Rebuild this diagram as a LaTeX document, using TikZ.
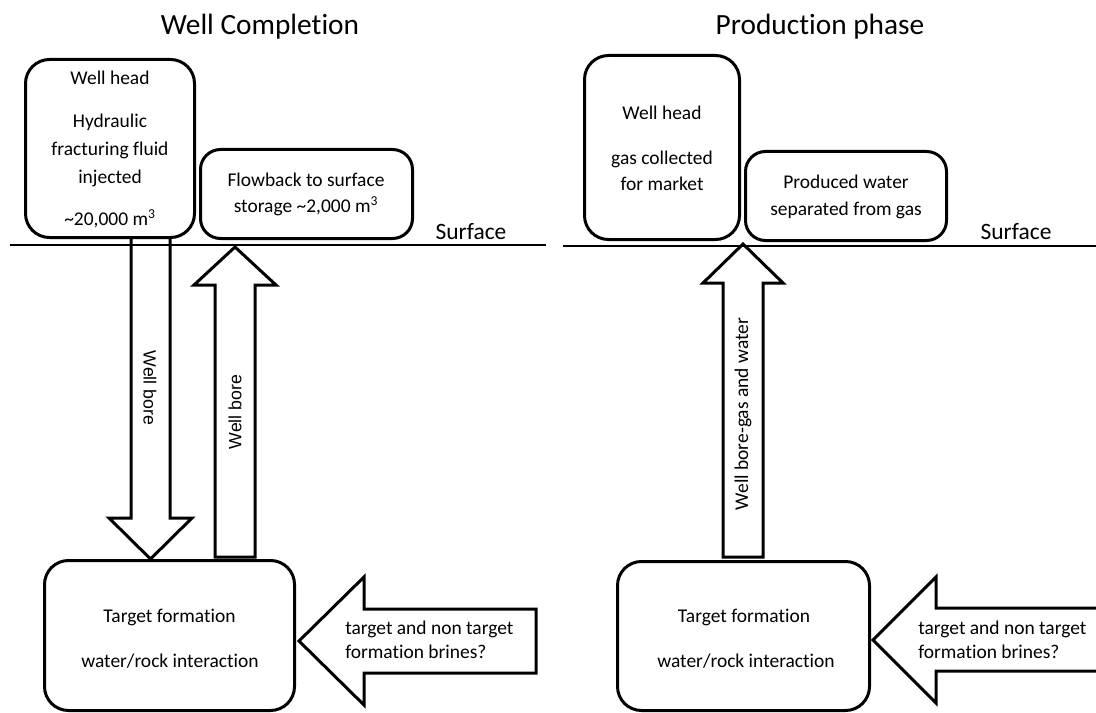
\documentclass[tikz,border=0pt]{standalone}
\usepackage{fontspec}
\setmainfont{Carlito}[RawFeature={-liga;-clig;-calt;-dlig;-rlig}]
\newfontfamily\arialfont{Liberation Sans}
\usepackage{tikz}

\begin{document}
\begin{tikzpicture}[x=0.75pt,y=0.75pt,yscale=-1,xscale=1,
	box/.style={draw, line width=2.25pt, rounded corners=18pt, inner sep=0pt},
	fat/.style={line width=2.25pt, line join=miter},
	lbl/.style={inner sep=0.75pt, align=center, font=\fontsize{14.6}{21}\selectfont},
	ttl/.style={inner sep=0.75pt, font=\fontsize{22}{26}\selectfont},
	srf/.style={inner sep=0.75pt, font=\fontsize{17.6}{21}\selectfont},
	bore/.style={inner sep=0.75pt, font=\arialfont\fontsize{13.3}{16}\selectfont}]
	\useasboundingbox (0,0) rectangle (1096,713);
	
	%Straight Lines: surface
	\draw [line width=2pt] (10,245) -- (546,245) ;
	\draw [line width=2pt] (563,246) -- (1096,246) ;
	
	%Shape: Box [well completion]
	\node [box, minimum width=126.75pt, minimum height=133.5pt] (cwell) at (110,148.5) {};
	\node [box, rounded corners=15pt, minimum width=159pt, minimum height=66.75pt] (cflow) at (306.5,194) {};
	\node [box, minimum width=187.5pt, minimum height=112.5pt] (ctarget) at (169.5,635.5) {};
	%Shape: Box [production phase]
	\node [box, minimum width=116.25pt, minimum height=138pt] (pwell) at (662,147.5) {};
	\node [box, rounded corners=15pt, minimum width=150.75pt, minimum height=66.75pt] (pwater) at (846,196) {};
	\node [box, minimum width=189pt, minimum height=111.75pt] (ptarget) at (743.5,636) {};
	
	%Shape: Arrow [down, injected]
	\draw [fat] (131,239) -- (131,518) -- (109,518) -- (150.5,559) -- (192,518) -- (170,518) -- (170,239) ;
	%Shape: Arrow [up, flowback]
	\draw [fat] (215,557) -- (215,285) -- (194,285) -- (235,247) -- (276,285) -- (255,285) -- (255,557) -- cycle ;
	%Shape: Arrow [up, gas and water]
	\draw [fat] (723,557) -- (723,283) -- (703,283) -- (743,244) -- (783,283) -- (763,283) -- (763,557) -- cycle ;
	%Shape: Arrow [left, brines]
	\draw [fat] (536,609) -- (364,609) -- (364,577) -- (299,641) -- (364,705) -- (364,673) -- (536,673) -- cycle ;
	\draw [fat] (1100,608) -- (936,608) -- (936,577) -- (873,640) -- (936,703) -- (936,671) -- (1100,671) ;
	
	% Text Node
	\node [ttl] (ctitle) at (260,27) {Well Completion};
	\node [ttl] (ptitle) at (820,27) {Production phase};
	% Text Node
	\node [lbl] (cwellhead) at (110,78) {Well head};
	\node [lbl] (cfluid) at (110,150) {Hydraulic\\fracturing fluid\\injected};
	\node [lbl] (cvolume) at (110,219) {\textasciitilde20,000 m\textsuperscript{3}};
	\node [lbl, font=\fontsize{14.6}{19.5}\selectfont] (cflowtxt) at (306,194) {Flowback to surface\\storage \textasciitilde2,000 m\textsuperscript{3}};
	\node [lbl] (ctgt1) at (169.5,617) {Target formation};
	\node [lbl] (ctgt2) at (170,661) {water/rock interaction};
	\node [lbl, align=left, anchor=west, font=\fontsize{14.6}{18}\selectfont] (cbrine) at (344,640) {target and non target\\formation brines?};
	% Text Node
	\node [lbl] (pwellhead) at (662,113) {Well head};
	\node [lbl, font=\fontsize{14.6}{19.5}\selectfont] (pgas) at (662,171) {gas collected\\for market};
	\node [lbl, font=\fontsize{14.6}{20.25}\selectfont] (pwatertxt) at (846,196.5) {Produced water\\separated from gas};
	\node [lbl] (ptgt1) at (744,617) {Target formation};
	\node [lbl] (ptgt2) at (746,661) {water/rock interaction};
	\node [lbl, align=left, anchor=west, font=\fontsize{14.6}{18}\selectfont] (pbrine) at (917,639.5) {target and non target\\formation brines?};
	% Text Node
	\node [srf] (csurface) at (471,232) {Surface};
	\node [srf] (psurface) at (1016,232) {Surface};
	% Text Node
	\node [bore, rotate=-90] (cdown) at (150,388) {Well bore};
	\node [bore, rotate=90] (cup) at (235,412) {Well bore};
	\node [lbl, rotate=90] (pup) at (743,414) {Well bore-gas and water};
	
\end{tikzpicture}
\end{document}
